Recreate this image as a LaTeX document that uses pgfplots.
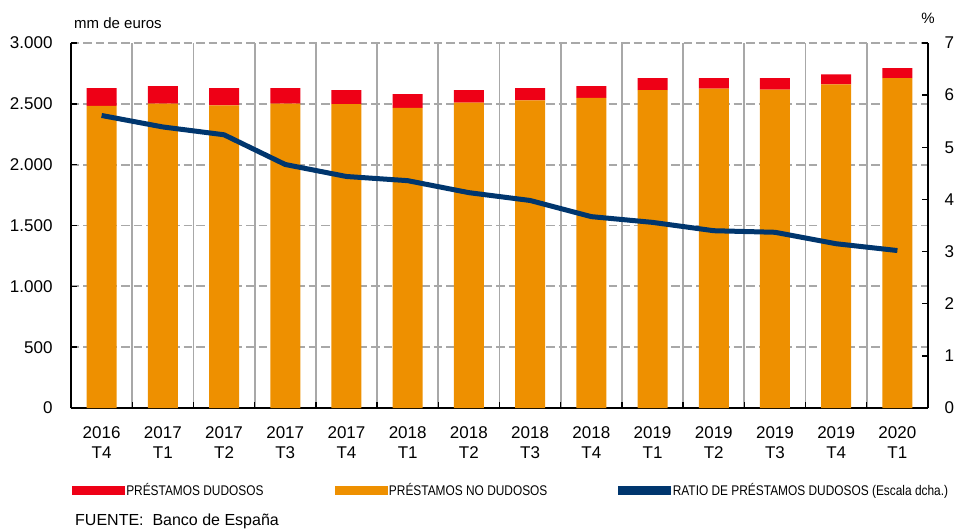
\documentclass[border=0pt]{standalone}
\usepackage{pgfplots}
\pgfplotsset{compat=1.18}
\usepackage{pgfplotstable}
\usepackage{fontspec}
\setmainfont{Liberation Sans}
\newfontfamily\narrowfont[FakeStretch=0.85]{Liberation Sans}
\definecolor{dudred}{RGB}{238,0,22}
\definecolor{dudorange}{RGB}{238,144,0}
\definecolor{navy}{RGB}{0,54,110}
\definecolor{gridgray}{RGB}{168,168,168}

\pgfplotstableread{
x orange red ratio
0 2484 146 5.61
1 2501 145 5.39
2 2488 142 5.24
3 2502 128 4.67
4 2498 115 4.44
5 2467 113 4.36
6 2510 103 4.13
7 2529 101 3.98
8 2548 98 3.67
9 2613 99 3.56
10 2624 88 3.40
11 2617 95 3.37
12 2660 82 3.15
13 2711 83 3.02
}\datatable

\begin{document}
\begin{tikzpicture}
\pgfplotsset{
  common/.style={
    scale only axis, width=857pt, height=365pt,
    xmin=-0.5, xmax=13.5,
    tick align=inside,
    major tick length=6pt,
    axis line style={line width=1.4pt, black},
    tick style={line width=1.4pt, black},
    /pgf/number format/assume math mode=true,
    tick label style={font=\fontsize{17}{20}\selectfont},
  }
}
\begin{axis}[common, name=ax,
  ybar stacked, bar width=30pt,
  ymin=0, ymax=3000, ytick={0,500,...,3000},
  /pgf/number format/.cd, 1000 sep={.}, /pgfplots/.cd,
  axis x line*=bottom, axis y line*=left,
  xtick={-0.5,0.5,...,13.5},
  x tick label as interval,
  xticklabels={{2016\\T4},{2017\\T1},{2017\\T2},{2017\\T3},{2017\\T4},{2018\\T1},{2018\\T2},{2018\\T3},{2018\\T4},{2019\\T1},{2019\\T2},{2019\\T3},{2019\\T4},{2020\\T1}},
  xticklabel style={align=center, yshift=-15pt},
  yticklabel style={xshift=-15pt},
  xmajorgrids, ymajorgrids,
  every axis grid/.style={line width=1.8pt, draw=gridgray},
  major grid style={line width=1.8pt, draw=gridgray},
  every axis x grid/.append style={solid, line width=1.8pt, draw=gridgray},
  every axis y grid/.append style={line width=1.8pt, draw=gridgray, dash pattern=on 8.5pt off 4pt},
]
\addplot[fill=dudorange, draw=none] table[x=x, y=orange]{\datatable};
\addplot[fill=dudred, draw=none] table[x=x, y=red]{\datatable};
\end{axis}
\begin{axis}[common,
  axis x line=none, axis y line*=right,
  ymin=0, ymax=7, ytick={0,...,7},
  yticklabel style={xshift=13pt},
  legend columns=3,
  legend style={at={(0.001,-0.2247)}, anchor=west, draw=none, fill=none,
    inner sep=0pt, outer sep=0pt,
    font=\narrowfont\fontsize{14}{16}\selectfont,
    nodes={inner xsep=2pt, inner ysep=0pt},
    /tikz/every even column/.append style={column sep=69pt}},
]
\addlegendimage{legend image code/.code={\fill[dudred] (0pt,-4pt) rectangle (52pt,4pt);}}
\addlegendentry{PRÉSTAMOS DUDOSOS}
\addlegendimage{legend image code/.code={\fill[dudorange] (0pt,-4pt) rectangle (52pt,4pt);}}
\addlegendentry{PRÉSTAMOS NO DUDOSOS}
\addlegendimage{legend image code/.code={\fill[navy] (0pt,-4pt) rectangle (52pt,4pt);}}
\addlegendentry{RATIO DE PRÉSTAMOS DUDOSOS (Escala dcha.)}
\addplot[navy, line width=5pt, line join=round] table[x=x, y=ratio]{\datatable};
\end{axis}
\node[anchor=base west, font=\fontsize{15}{18}\selectfont, inner sep=0pt] at ([xshift=3pt, yshift=15pt]ax.north west) {mm de euros};
\node[anchor=base, font=\fontsize{15}{18}\selectfont, inner sep=0pt] at ([yshift=20pt]ax.north east) {\%};
\node[anchor=base west, font=\fontsize{16}{19}\selectfont, inner sep=0pt] at ([xshift=4pt, yshift=-117pt]ax.south west) {FUENTE:\ \ Banco de España};
\pgfresetboundingbox
\path[use as bounding box] ([xshift=-71pt, yshift=-120pt]ax.south west) rectangle ([xshift=27pt, yshift=43pt]ax.north east);
\end{tikzpicture}
\end{document}
